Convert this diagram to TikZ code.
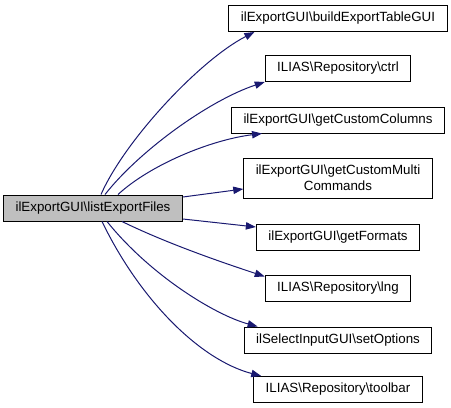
\documentclass[tikz,border=0pt]{standalone}
\usepackage{fontspec}
\setmainfont{Liberation Sans}
\usetikzlibrary{arrows.meta, calc}
\definecolor{cEdge}{HTML}{191970}
\definecolor{cRoot}{HTML}{BFBFBF}
\tikzset{
  fn/.style={rectangle, draw=black, line width=0.75pt, fill=white,
    align=center, inner xsep=9pt, inner ysep=2pt, minimum height=19.5pt},
  root/.style={fn, fill=cRoot},
  call/.style={-{Triangle[length=7.5pt, width=5.5pt]}, draw=cEdge, line width=0.75pt},
}
\newcommand{\bs}{\textbackslash}

\begin{document}
\begin{tikzpicture}[x=0.75pt, y=-0.75pt, font=\fontsize{10}{12}\selectfont]
\useasboundingbox (0,0) rectangle (451,408);
% caller
\node[root] (list) at (93,208) {ilExportGUI\bs listExportFiles};
% callees
\node[fn] (build) at (338,18.5) {ilExportGUI\bs buildExportTableGUI};
\node[fn] (ctrl) at (338,68.5) {ILIAS\bs Repository\bs ctrl};
\node[fn] (cols) at (338,120) {ilExportGUI\bs getCustomColumns};
\node[fn, minimum height=30pt] (multi) at (338,178) {ilExportGUI\bs getCustomMulti\\Commands};
\node[fn] (formats) at (338,237) {ilExportGUI\bs getFormats};
\node[fn] (lng) at (338,288) {ILIAS\bs Repository\bs lng};
\node[fn] (setopt) at (338,340) {ilSelectInputGUI\bs setOptions};
\node[fn] (toolbar) at (338,389.5) {ILIAS\bs Repository\bs toolbar};
% calls
\draw[call] ($(list.north)+(8,0)$) .. controls (125,140) and (200,60) .. ($(build.south west)+(26,0)$);
\draw[call] ($(list.north)+(12,0)$) .. controls (140,150) and (210,100) .. (ctrl.south west);
\draw[call] ($(list.north)+(25,0)$) .. controls (150,165) and (210,140) .. ($(cols.south west)+(31,0)$);
\draw[call] ($(list.east)+(0,-11)$) -- ($(multi.west)+(0,11)$);
\draw[call] ($(list.east)+(0,11)$) -- ($(formats.west)+(0,-10)$);
\draw[call] ($(list.south)+(29,0)$) .. controls (170,245) and (230,265) .. ($(lng.north west)+(0,2)$);
\draw[call] ($(list.south)+(14,0)$) .. controls (150,275) and (215,315) .. ($(setopt.north west)+(14,0)$);
\draw[call] ($(list.south)+(9,0)$) .. controls (140,300) and (200,360) .. ($(toolbar.north west)+(8,0)$);
\end{tikzpicture}
\end{document}
